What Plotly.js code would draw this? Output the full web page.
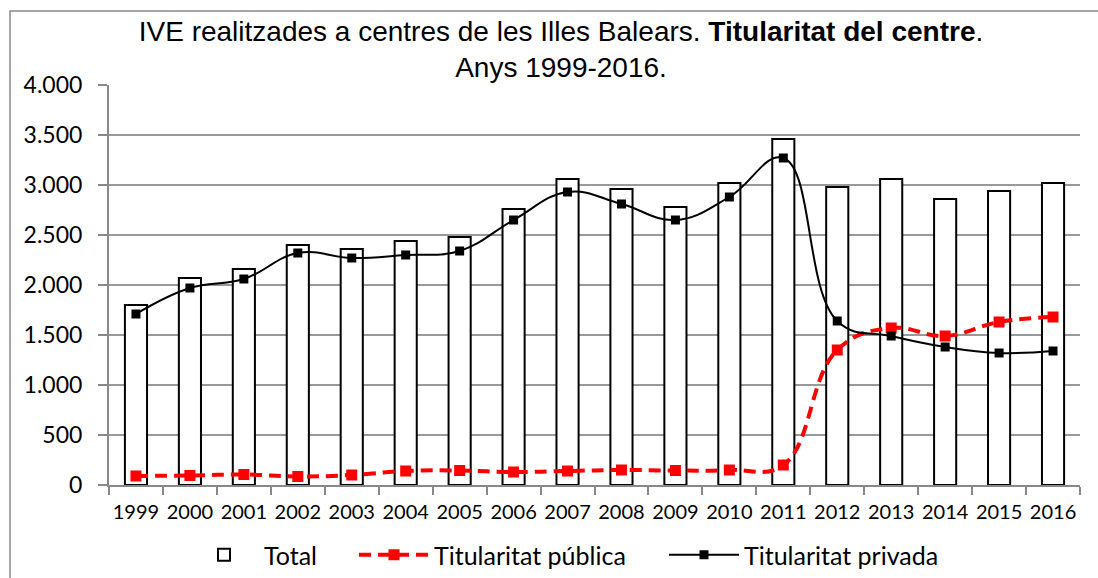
<!DOCTYPE html>
<html>
<head>
<meta charset="utf-8">
<script src="https://cdn.plot.ly/plotly-3.0.1.min.js"></script>
<style>
html,body{margin:0;padding:0;background:#fff;}
#chart{width:1098px;height:578px;}
</style>
</head>
<body>
<div id="chart"></div>
<script>
const years = ["1999","2000","2001","2002","2003","2004","2005","2006","2007","2008","2009","2010","2011","2012","2013","2014","2015","2016"];
const total = [1800,2070,2160,2400,2360,2440,2480,2760,3060,2960,2780,3020,3460,2980,3060,2860,2940,3020];
const publica = [90,95,105,85,100,140,145,130,140,150,145,150,200,1350,1570,1490,1630,1680];
const privada = [1710,1970,2060,2320,2270,2300,2340,2650,2930,2810,2650,2880,3270,1640,1490,1380,1320,1340];
const yTicks = [0,500,1000,1500,2000,2500,3000,3500,4000];

const traces = [
  {type:'bar', name:'Total', x:years, y:total, legend:'legend',
   marker:{color:'#ffffff', line:{color:'#000000', width:2}}},
  {type:'scatter', mode:'lines+markers', name:'Titularitat pública', x:years, y:publica, legend:'legend2',
   line:{color:'#ff0000', width:4, dash:'12px,7px', shape:'spline', smoothing:1.2},
   marker:{symbol:'square', size:11, color:'#ff0000'}},
  {type:'scatter', mode:'lines+markers', name:'Titularitat privada', x:years, y:privada, legend:'legend3',
   line:{color:'#000000', width:2, shape:'spline', smoothing:1.2},
   marker:{symbol:'square', size:9, color:'#000000'}}
];

const W = 1098, H = 578, L = 109, R = 18, T = 85, B = 93;
const pw = W - L - R, ph = H - T - B;
const legFont = {family:'Lato, sans-serif', size:25, color:'#000'};
function leg(px){
  return {orientation:'h', xref:'container', yref:'container',
    x:px/W, xanchor:'left', y:(H-555)/H, yanchor:'middle',
    font:legFont, itemwidth:70, bgcolor:'rgba(0,0,0,0)'};
}

const layout = {
  width:W, height:H,
  margin:{l:L, r:R, t:T, b:B, pad:0},
  paper_bgcolor:'#ffffff', plot_bgcolor:'#ffffff',
  separators:',.',
  bargap:0.59,
  showlegend:true,
  hovermode:false,
  title:{
    text:'IVE realitzades a centres de les Illes Balears. <b>Titularitat del centre</b>.<br>Anys 1999-2016.',
    font:{family:'Liberation Sans, Arial, sans-serif', size:28, color:'#000'},
    x:561/W, xref:'container', xanchor:'center',
    y:1-41/H, yref:'container', yanchor:'top',
    automargin:false
  },
  xaxis:{
    type:'category',
    range:[-0.5, 17.5],
    autorange:false,
    automargin:false,
    tickangle:0,
    showgrid:false,
    showline:true, linecolor:'#888888', linewidth:2,
    ticks:'outside', tickson:'boundaries', ticklen:8, tickcolor:'#888888', tickwidth:2,
    ticklabelstandoff:8,
    tickfont:{family:'Lato, sans-serif', size:20, color:'#000'},
    fixedrange:true
  },
  yaxis:{
    range:[0,4000],
    autorange:false,
    automargin:false,
    tickvals:yTicks,
    tickformat:',d',
    showgrid:true, gridcolor:'#999999', gridwidth:2,
    showline:true, linecolor:'#888888', linewidth:2,
    ticks:'outside', ticklen:9, tickcolor:'#888888', tickwidth:2,
    ticklabelstandoff:11,
    zeroline:false,
    tickfont:{family:'Lato, sans-serif', size:23, color:'#000'},
    fixedrange:true
  },
  legend:leg(184),
  legend2:leg(354),
  legend3:leg(664),
  shapes:[
    {type:'rect', xref:'paper', yref:'paper', layer:'below',
     x0:(10-L)/pw, x1:(W+10-L)/pw, y0:-(H+10-T-ph)/ph, y1:(H-B-11)/ph,
     line:{color:'#888888', width:1.5}, fillcolor:'rgba(0,0,0,0)'}
  ]
};

Plotly.newPlot('chart', traces, layout, {displayModeBar:false, staticPlot:true});
</script>
</body>
</html>
